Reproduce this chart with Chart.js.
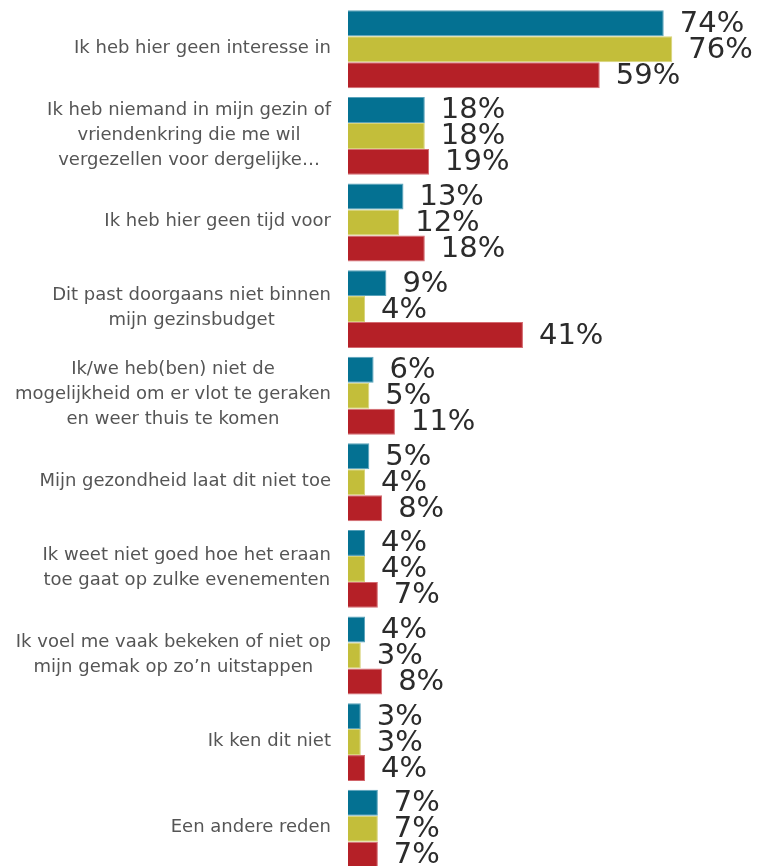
<!DOCTYPE html>
<html>
<head>
<meta charset="utf-8">
<script src="https://cdn.jsdelivr.net/npm/chart.js@4/dist/chart.umd.min.js"></script>
<style>
  html, body { margin: 0; padding: 0; background: #fff; overflow: hidden; }
  #wrap { position: relative; width: 758px; height: 872px; }
</style>
</head>
<body>
<div id="wrap"><canvas id="chart"></canvas></div>
<script>
const categories = [
  ["Ik heb hier geen interesse in"],
  ["Ik heb niemand in mijn gezin of", "vriendenkring die me wil", "vergezellen voor dergelijke\u2026"],
  ["Ik heb hier geen tijd voor"],
  ["Dit past doorgaans niet binnen", "mijn gezinsbudget"],
  ["Ik/we heb(ben) niet de", "mogelijkheid om er vlot te geraken", "en weer thuis te komen"],
  ["Mijn gezondheid laat dit niet toe"],
  ["Ik weet niet goed hoe het eraan", "toe gaat op zulke evenementen"],
  ["Ik voel me vaak bekeken of niet op", "mijn gemak op zo\u2019n uitstappen"],
  ["Ik ken dit niet"],
  ["Een andere reden"]
];

const seriesNames = ["Reeks 1", "Reeks 2", "Reeks 3"];
const serieBlauw = [74, 18, 13, 9, 6, 5, 4, 4, 3, 7];
const serieGeel = [76, 18, 12, 4, 5, 4, 4, 3, 3, 7];
const serieRood = [59, 19, 18, 41, 11, 8, 7, 8, 4, 7];

const colors = ["#047192", "#c3be3a", "#b52027"];
const borders = ["#5aa3bb", "#d8d47a", "#d46a70"];

const canvas = document.getElementById("chart");
const ctx = canvas.getContext("2d");

// category labels: block right aligned, lines centered within block
const catLabels = {
  id: "catLabels",
  afterDraw(chart) {
    const c = chart.ctx;
    const y = chart.scales.y;
    const rightX = 331;
    const lh = 25;
    c.save();
    c.font = "18px 'DejaVu Sans'";
    c.fillStyle = "#555555";
    c.textBaseline = "middle";
    c.textAlign = "center";
    categories.forEach((lines, i) => {
      const cy = y.getPixelForValue(i) - 1;
      const w = Math.max(...lines.map(l => c.measureText(l).width));
      const cx = rightX - w / 2;
      const y0 = cy - (lines.length - 1) * lh / 2;
      lines.forEach((l, k) => c.fillText(l, cx, y0 + k * lh));
    });
    c.restore();
  }
};

// value labels to the right of each bar
const valueLabels = {
  id: "valueLabels",
  afterDatasetsDraw(chart) {
    const c = chart.ctx;
    c.save();
    c.font = "29px 'DejaVu Sans'";
    c.fillStyle = "#2b2b2b";
    c.textBaseline = "middle";
    c.textAlign = "left";
    chart.data.datasets.forEach((ds, di) => {
      chart.getDatasetMeta(di).data.forEach((bar, i) => {
        c.fillText(ds.data[i] + "%", bar.x + 16, bar.y + 1);
      });
    });
    c.restore();
  }
};

new Chart(ctx, {
  type: "bar",
  data: {
    labels: categories,
    datasets: [serieBlauw, serieGeel, serieRood].map((d, i) => ({
      label: seriesNames[i],
      data: d,
      backgroundColor: colors[i],
      borderColor: borders[i],
      borderWidth: 1,
      barPercentage: 1,
      categoryPercentage: 0.9
    }))
  },
  options: {
    indexAxis: "y",
    responsive: true,
    maintainAspectRatio: false,
    animation: false,
    layout: { padding: { left: 348, right: 26, top: 6, bottom: 0 } },
    plugins: {
      legend: { display: false },
      tooltip: { enabled: false }
    },
    scales: {
      x: { display: false, min: 0, max: 90 },
      y: { display: false }
    }
  },
  plugins: [catLabels, valueLabels]
});
</script>
</body>
</html>
